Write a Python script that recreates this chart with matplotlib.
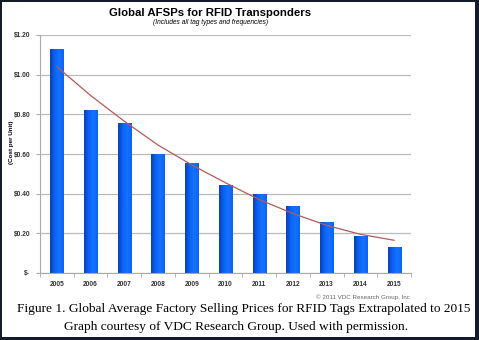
import numpy as np
import matplotlib.pyplot as plt
from matplotlib.patches import Rectangle
from matplotlib.colors import LinearSegmentedColormap

years = ['2005', '2006', '2007', '2008', '2009', '2010',
         '2011', '2012', '2013', '2014', '2015']
prices = [1.13, 0.82, 0.756, 0.60, 0.555, 0.444, 0.40, 0.338, 0.257, 0.187, 0.131]
trend = [1.04, 0.895, 0.765, 0.645, 0.545, 0.455, 0.37, 0.30, 0.24, 0.195, 0.165]
yticks = [0, 0.2, 0.4, 0.6, 0.8, 1.0, 1.2]
ytick_labels = ['$-', '$0.20', '$0.40', '$0.60', '$0.80', '$1.00', '$1.20']

plt.rcParams['font.family'] = 'Liberation Sans'

fig = plt.figure(figsize=(4.79, 3.40), dpi=100)

# dark frame around the picture
fig.patches.append(Rectangle((0, 0), 1, 1, transform=fig.transFigure,
                             facecolor='#141c2c', edgecolor='none', zorder=-2))
fig.patches.append(Rectangle((2 / 479, 3 / 340), 473 / 479, 335 / 340,
                             transform=fig.transFigure, facecolor='white',
                             edgecolor='none', zorder=-1))

ax = fig.add_axes([40 / 479, 67 / 340, 371 / 479, 238 / 340])
ax.set_facecolor('none')
x = np.arange(len(years))
bars = ax.bar(x, prices, width=0.39, color='#0a62f8', zorder=2)

# horizontal gradient on each bar
cmap = LinearSegmentedColormap.from_list('bl', ['#0a40b0', '#0a62f8', '#1672ff', '#0a62f8'])
grad = np.linspace(0, 1, 64).reshape(1, -1)
for b in bars:
    bx, by = b.get_x(), b.get_y()
    im = ax.imshow(grad, cmap=cmap, aspect='auto', zorder=2,
                   extent=(bx, bx + b.get_width(), by, by + b.get_height()))
    im.set_clip_path(b)

ax.plot(x, trend, color='#b35a5a', lw=0.9, zorder=3)

ax.set_xlim(-0.5, 10.5)
ax.set_ylim(0, 1.2)
ax.set_yticks(yticks)
ax.set_yticklabels(ytick_labels, fontsize=4.8, fontweight='bold', color='#333333')
ax.set_xticks(x)
ax.set_xticklabels(years, fontsize=4.8, fontweight='bold', color='#333333')
ax.set_xticks(np.arange(-0.5, 11, 1), minor=True)
ax.tick_params(axis='x', which='major', length=0, pad=6)
ax.tick_params(axis='x', which='minor', length=3, color='#aaaaaa')
ax.tick_params(axis='y', length=3, color='#aaaaaa', pad=4)
ax.grid(axis='y', color='#bbbbbb', lw=0.9, zorder=0)
for s in ['top', 'right']:
    ax.spines[s].set_visible(False)
ax.spines['left'].set_color('#aaaaaa')
ax.spines['bottom'].set_color('#aaaaaa')
ax.set_ylabel('(Cost per Unit)', fontsize=4.5, fontweight='bold')
ax.yaxis.set_label_coords(-26 / 371, 0.55)

fig.text(210 / 479, 1 - 13 / 340, 'Global AFSPs for RFID Transponders',
         ha='center', va='center', fontsize=8.2, fontweight='bold')
fig.text(211 / 479, 1 - 23 / 340, '(Includes all tag types and frequencies)',
         ha='center', va='center', fontsize=4.8, style='italic')
fig.text(410 / 479, 1 - 297 / 340, '\u00a9 2011 VDC Research Group, Inc',
         ha='right', va='center', fontsize=4.5, color='#666666')
fig.text(244 / 479, 1 - 309 / 340,
         'Figure 1. Global Average Factory Selling Prices for RFID Tags Extrapolated to 2015',
         ha='center', va='center', fontsize=9.6, family='Liberation Serif')
fig.text(236 / 479, 1 - 327 / 340,
         'Graph courtesy of VDC Research Group. Used with permission.',
         ha='center', va='center', fontsize=9.6, family='Liberation Serif')

fig.savefig('out.png', dpi=100)
